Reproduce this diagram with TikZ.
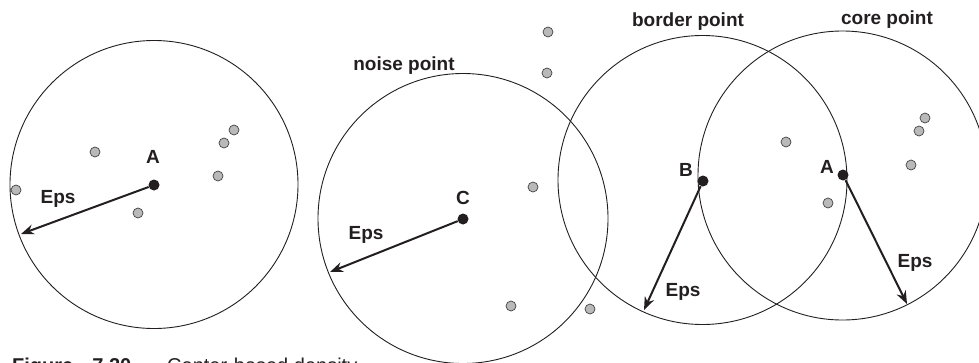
\documentclass[tikz,border=0pt]{standalone}
\usepackage{fontspec}
\setmainfont{Liberation Sans}
\usetikzlibrary{arrows.meta}
\definecolor{InkBlack}{RGB}{35,31,32}
\definecolor{DotGray}{RGB}{185,185,185}
\tikzset{
  ring/.style={draw=InkBlack, line width=0.9pt},
  ctrpt/.style={circle, fill=InkBlack, inner sep=0pt, minimum size=11pt},
  objpt/.style={circle, draw=InkBlack!85, fill=DotGray, line width=0.7pt, inner sep=0pt, minimum size=10pt},
  epsarrow/.style={-{Stealth[length=13pt, width=10pt]}, line width=2pt, InkBlack},
  lbl/.style={font=\fontsize{19}{22}\selectfont\bfseries, text=InkBlack, inner sep=0pt, anchor=base},
  capt/.style={font=\fontsize{20}{24}\selectfont, text=InkBlack, inner sep=0pt, anchor=base west},
}

\begin{document}
\begin{tikzpicture}[x=1pt, y=-1pt]
  \useasboundingbox (0,0) rectangle (979,362);
  \clip (0,0) rectangle (979,362);

  % the four Eps neighbourhoods
  \node[ctrpt] (A1) at (154,185) {};
  \node[ctrpt] (C) at (463,219) {};
  \node[ctrpt] (B) at (703,181) {};
  \node[ctrpt] (A2) at (843,175) {};
  \draw[ring] (154,184.5) circle[radius=144pt];
  \draw[ring] (463,218.5) circle[radius=145pt];
  \draw[ring] (702.5,180) circle[radius=144.5pt];
  \draw[ring] (842.5,175.5) circle[radius=144.5pt];

  % other objects
  \foreach \x/\y [count=\k] in {95/152, 16/190, 138/213, 218/176, 224/143, 234/130,
      548/32, 547/73, 533/187, 511/306, 590/309,
      786/142, 828/203, 925/118, 919/131, 911/165} {
    \node[objpt] (o\k) at (\x,\y) {};
  }

  % Eps radii
  \coordinate (e1) at (21,234);
  \coordinate (e2) at (330,272);
  \coordinate (e3) at (644,310);
  \coordinate (e4) at (907,304);
  \draw[epsarrow] (A1) -- (e1);
  \draw[epsarrow] (C) -- (e2);
  \draw[epsarrow] (B) -- (e3);
  \draw[epsarrow] (A2) -- (e4);

  % labels
  \node[lbl] (lA1) at (153,163) {A};
  \node[lbl] (lC) at (463,204) {C};
  \node[lbl] (lB) at (686,176) {B};
  \node[lbl] (lA2) at (827,173) {A};
  \node[lbl] (eps1) at (58,203) {Eps};
  \node[lbl] (eps2) at (366,239) {Eps};
  \node[lbl] (eps3) at (683,296) {Eps};
  \node[lbl] (eps4) at (915,267) {Eps};
  \node[lbl] (noise) at (404,70) {noise point};
  \node[lbl] (border) at (688,26) {border point};
  \node[lbl] (core) at (887,24) {core point};

  % caption, cut off by the page edge
  \node[capt, font=\fontsize{20}{24}\selectfont\bfseries] (capno) at (12,372) {Figure\hspace{19pt}7.20};
  \node[capt] (captext) at (167,372) {Center-based density};
\end{tikzpicture}
\end{document}
